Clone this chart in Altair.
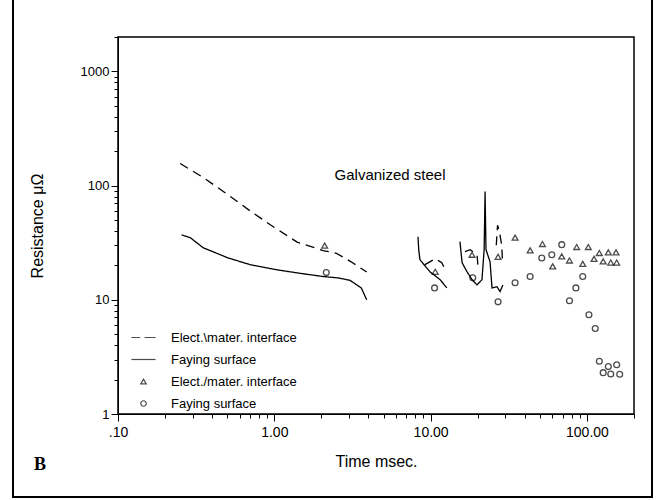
import altair as alt
import pandas as pd

# ---- line data (Elect.\mater. interface = dashed, Faying surface = solid) ----
dash_seg_x = [
    [0.25, 0.35, 0.5, 0.7, 1.0, 1.4, 2.05, 2.5, 3.1, 3.9],
    [9.2, 10.7, 11.8, 12.4],
    [16.6, 17.9, 19.8, 20.1],
    [26.3, 26.8, 27.5, 28.5, 28.8],
]
dash_seg_y = [
    [156, 118, 84, 60, 43, 32, 27, 25.5, 21.5, 17.5],
    [20.3, 22.9, 21.1, 18.3],
    [26.4, 27.5, 24.8, 19.5],
    [30, 45, 40, 30, 22],
]
solid_seg_x = [
    [0.255, 0.29, 0.35, 0.5, 0.7, 1.04, 1.53, 2.05, 2.6, 3.05, 3.6, 3.9],
    [8.3, 8.4, 8.55, 9.9, 11.5, 12.7],
    [15.4, 15.9, 17.1, 18.4, 19.8, 21.3, 22.0, 22.3, 22.6, 24.0, 24.7, 26.6, 27.8, 29.0],
]
solid_seg_y = [
    [37, 35, 28.6, 23.4, 20.3, 18.3, 16.9, 16.0, 15.5, 14.8, 12.7, 10],
    [35.7, 27, 22.4, 17.6, 15, 12.7],
    [32.3, 21.1, 17.6, 15, 13.5, 15, 27.5, 88.6, 27.5, 21.5, 12.7, 13, 11.8, 13.5],
]

# ---- point data ----
tri_x = [2.1, 10.7, 18.4, 27, 34.7, 43.3, 51.9, 60.4, 69, 77.3, 86, 94, 102,
         111, 120, 127, 137, 142, 153.5, 155]
tri_y = [29.8, 17.6, 24.8, 23.8, 35, 27.1, 30.8, 19.6, 24, 22.1, 29, 20.6, 29,
         22.8, 25.7, 21.7, 26, 21.2, 26, 21.2]
circ_x = [2.15, 10.6, 18.6, 27, 34.7, 43.3, 51.4, 59.6, 69, 77.3, 85, 94, 103,
          113, 120, 127, 137, 142, 155, 162]
circ_y = [17.3, 12.7, 15.6, 9.6, 14.1, 16, 23.2, 24.8, 30.4, 9.8, 12.7, 16, 7.4,
          5.6, 2.9, 2.3, 2.6, 2.24, 2.7, 2.23]

legend_keys = ["L1", "L2", "P1", "P2"]
legend_labels = ["Elect.\\\\mater. interface", "Faying surface",
                 "Elect./mater. interface", "Faying surface"]

annot_text = ["Galvanized steel"]
annot_x = [5.5]
annot_y = [125]

x_major = [0.1, 1, 10, 100]
x_major_lbl = [".10", "1.00", "10.00", "100.00"]
y_major = [1, 10, 100, 1000]
y_major_lbl = ["1", "10", "100", "1000"]

# ---- build tables ----
rows = []
for i, (xs, ys) in enumerate(zip(dash_seg_x, dash_seg_y)):
    for j, (a, b) in enumerate(zip(xs, ys)):
        rows.append({"x": a, "y": b, "key": "L1", "seg": f"d{i}", "ord": j})
for i, (xs, ys) in enumerate(zip(solid_seg_x, solid_seg_y)):
    for j, (a, b) in enumerate(zip(xs, ys)):
        rows.append({"x": a, "y": b, "key": "L2", "seg": f"s{i}", "ord": j})
lines_df = pd.DataFrame(rows)

prow = [{"x": a, "y": b, "key": "P1"} for a, b in zip(tri_x, tri_y)]
prow += [{"x": a, "y": b, "key": "P2"} for a, b in zip(circ_x, circ_y)]
pts_df = pd.DataFrame(prow)

annot_df = pd.DataFrame({"t": annot_text, "x": annot_x, "y": annot_y})

def minor_vals(lo_exp, hi_exp, top):
    v = []
    for e in range(lo_exp, hi_exp + 1):
        for m in range(1, 10):
            val = round(m * 10 ** e, 6)
            if val <= top:
                v.append(val)
    return v

x_vals = minor_vals(-1, 2, 200)
y_vals = minor_vals(0, 3, 2000)

def lbl_expr(vals, lbls):
    parts = " : ".join(f"datum.value == {v} ? '{l}'" for v, l in zip(vals, lbls))
    return parts + " : ''"

def major_test(vals):
    return " || ".join(f"datum.value == {v}" for v in vals)

FONT = "Liberation Sans"

xscale = alt.Scale(type="log", domain=[0.1, 200], nice=False)
yscale = alt.Scale(type="log", domain=[1, 2000], nice=False)

xaxis = alt.Axis(values=x_vals, labelExpr=lbl_expr(x_major, x_major_lbl),
                 tickSize={"condition": {"test": major_test(x_major), "value": 7}, "value": 4},
                 grid=False, title="Time msec.", labelFontSize=14, titleFontSize=16,
                 labelFont=FONT, titleFont=FONT, titleFontWeight="normal",
                 labelPadding=4, titlePadding=14, domainColor="black", tickColor="black",
                 labelColor="black", titleColor="black", labelFlush=False, labelOverlap=False)
yaxis = alt.Axis(values=y_vals, labelExpr=lbl_expr(y_major, y_major_lbl),
                 tickSize={"condition": {"test": major_test(y_major), "value": 7}, "value": 4},
                 grid=False, title="Resistance μΩ", labelFontSize=13, titleFontSize=16,
                 labelFont=FONT, titleFont=FONT, titleFontWeight="normal",
                 labelPadding=2, titlePadding=35, domainColor="black", tickColor="black",
                 labelColor="black", titleColor="black", labelFlush=False, labelOverlap=False)

lines = alt.Chart(lines_df).mark_line(color="black", strokeWidth=1.3).encode(
    x=alt.X("x:Q", scale=xscale, axis=xaxis),
    y=alt.Y("y:Q", scale=yscale, axis=yaxis),
    detail="seg:N",
    order="ord:Q",
    strokeDash=alt.StrokeDash("key:N", scale=alt.Scale(domain=["L1", "L2"],
                                                        range=[[9, 6], [1, 0]]), legend=None),
)

dash_path = "M-4.4,0L-1.2,0M0.4,0L4.4,0"
solid_path = "M-4.4,0L4.4,0"
leg_expr = "[" + ",".join(f"'{l}'" for l in legend_labels) + "][indexof([" + \
    ",".join(f"'{k}'" for k in legend_keys) + "], datum.value)]"

points = alt.Chart(pts_df).mark_point(filled=False, color="black", strokeWidth=1.3, size=34).encode(
    x=alt.X("x:Q", scale=xscale),
    y=alt.Y("y:Q", scale=yscale),
    shape=alt.Shape("key:N", scale=alt.Scale(domain=legend_keys,
                                             range=[dash_path, solid_path, "triangle-up", "circle"]),
                    legend=alt.Legend(title=None, orient="none", legendX=19, legendY=294,
                                      labelExpr=leg_expr, labelFont=FONT, labelFontSize=13,
                                      labelColor="black", symbolSize=30, symbolStrokeColor="black",
                                      symbolStrokeWidth=1.2, symbolFillColor="transparent",
                                      labelOffset=21, rowPadding=8, padding=0)),
)

annot = alt.Chart(annot_df).mark_text(font=FONT, fontSize=15, color="black", align="center",
                                      baseline="middle").encode(
    x=alt.X("x:Q", scale=xscale), y=alt.Y("y:Q", scale=yscale), text="t:N")

b_label = alt.Chart(pd.DataFrame({"t": ["B"]})).mark_text(
    font="Liberation Serif", fontSize=18, fontWeight="bold", color="black", align="center",
    baseline="middle").encode(x=alt.value(-78), y=alt.value(428), text="t:N")

frame = alt.Chart(pd.DataFrame({"a": [0]})).mark_rect(
    fillOpacity=0, stroke="black", strokeWidth=2).encode(
    x=alt.value(-105), x2=alt.value(534), y=alt.value(-60), y2=alt.value(460))

# plot-area box (top and right edges) drawn in pixel space of the plot area
box = alt.Chart(pd.DataFrame({"a": [0]})).mark_rect(
    fillOpacity=0, stroke="black", strokeWidth=1.5).encode(
    x=alt.value(0), x2=alt.value(516), y=alt.value(0), y2=alt.value(377))

chart = alt.layer(lines, points, annot, b_label, frame, box).properties(
    width=516, height=377,
    autosize=alt.AutoSizeParams(type="none"),
    padding={"left": 118, "top": 37, "right": 23, "bottom": 86},
    background="white",
).configure_view(stroke=None)

chart.save("out.html", embed_options={"renderer": "svg", "actions": False})
